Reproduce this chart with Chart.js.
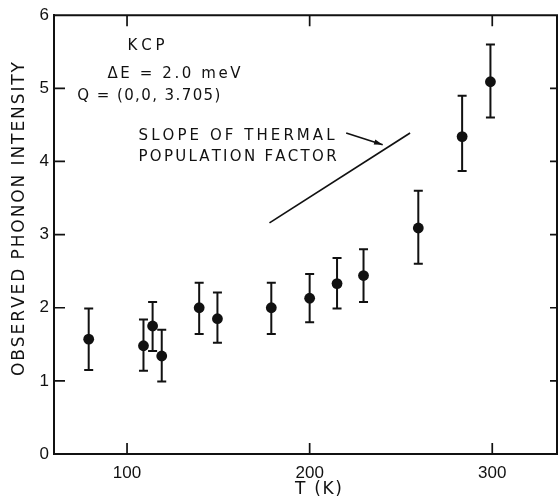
<!DOCTYPE html>
<html>
<head>
<meta charset="utf-8">
<script src="https://cdn.jsdelivr.net/npm/chart.js@4.4.1/dist/chart.umd.min.js"></script>
<style>
html,body{margin:0;padding:0;background:#fff;overflow:hidden;}
#wrap{width:558px;height:501px;position:relative;}
</style>
</head>
<body>
<div id="wrap"><canvas id="c" width="558" height="501"></canvas></div>
<script>
// ---- data ----
const temperatures = [79, 109, 114, 119, 139.5, 149.5, 179, 200, 215, 229.5, 259.5, 283.5, 299];
const intensity    = [1.57, 1.48, 1.75, 1.34, 2.00, 1.85, 2.00, 2.13, 2.33, 2.44, 3.09, 4.34, 5.09];
const errHigh      = [1.99, 1.84, 2.08, 1.70, 2.34, 2.21, 2.34, 2.46, 2.68, 2.80, 3.60, 4.90, 5.60];
const errLow       = [1.15, 1.14, 1.41, 0.99, 1.64, 1.52, 1.64, 1.80, 1.99, 2.08, 2.60, 3.87, 4.60];
const slopeT = [178, 255];
const slopeI = [3.16, 4.39];
const arrowT = [220, 240];
const arrowI = [4.39, 4.23];
const xTicks = [100, 200, 300];
const yTicks = [0, 1, 2, 3, 4, 5, 6];
const xTitle = "T (K)";
const yTitle = "OBSERVED PHONON INTENSITY";
const notes = [
  {text: "KCP", t: 100.3, i: 5.58, w: 37},
  {text: "\u0394E = 2.0 meV", t: 89.3, i: 5.19, w: 133},
  {text: "Q = (0,0, 3.705)", t: 72.8, i: 4.90, w: 143},
  {text: "SLOPE OF THERMAL", t: 106.3, i: 4.34, w: 196},
  {text: "POPULATION FACTOR", t: 106.3, i: 4.06, w: 198}
];

const FONT = '"DejaVu Sans", "Liberation Sans", sans-serif';
const TICKFONT = '"Liberation Sans", Arial, sans-serif';

function drawSpaced(ctx, text, x, y, target) {
  const chars = Array.from(text);
  let total = 0;
  const ws = chars.map(c => { const w = ctx.measureText(c).width; total += w; return w; });
  const sp = chars.length > 1 ? (target - total) / (chars.length - 1) : 0;
  let cx = x;
  chars.forEach((c, k) => { ctx.fillText(c, cx, y); cx += ws[k] + sp; });
}

const extras = {
  id: 'extras',
  beforeDatasetsDraw(chart) {
    const {ctx, scales: {x, y}} = chart;
    ctx.save();
    ctx.strokeStyle = '#111';
    ctx.lineWidth = 2;
    for (let k = 0; k < temperatures.length; k++) {
      const px = x.getPixelForValue(temperatures[k]);
      const pt = y.getPixelForValue(errHigh[k]);
      const pb = y.getPixelForValue(errLow[k]);
      ctx.beginPath();
      ctx.moveTo(px, pt); ctx.lineTo(px, pb);
      ctx.moveTo(px - 4.5, pt); ctx.lineTo(px + 4.5, pt);
      ctx.moveTo(px - 4.5, pb); ctx.lineTo(px + 4.5, pb);
      ctx.stroke();
    }
    ctx.restore();
  },
  afterDatasetsDraw(chart) {
    const {ctx, chartArea: a, scales: {x, y}} = chart;
    ctx.save();
    ctx.strokeStyle = '#111';
    ctx.lineWidth = 2;
    // frame top and right
    ctx.beginPath();
    ctx.moveTo(a.left, a.top); ctx.lineTo(a.right, a.top);
    ctx.moveTo(a.right - 1, a.top); ctx.lineTo(a.right - 1, a.bottom);
    ctx.stroke();
    // inward ticks
    ctx.lineWidth = 1.7;
    ctx.beginPath();
    xTicks.forEach(v => {
      const px = x.getPixelForValue(v);
      ctx.moveTo(px, a.bottom); ctx.lineTo(px, a.bottom - 11);
      ctx.moveTo(px, a.top); ctx.lineTo(px, a.top + 11);
    });
    yTicks.forEach(v => {
      if (v === 0 || v === 6) return;
      const py = y.getPixelForValue(v);
      ctx.moveTo(a.left, py); ctx.lineTo(a.left + 11, py);
      ctx.moveTo(a.right, py); ctx.lineTo(a.right - 8, py);
    });
    ctx.stroke();
    // arrow
    const ax0 = x.getPixelForValue(arrowT[0]), ay0 = y.getPixelForValue(arrowI[0]);
    const ax1 = x.getPixelForValue(arrowT[1]), ay1 = y.getPixelForValue(arrowI[1]);
    ctx.lineWidth = 1.6;
    ctx.beginPath(); ctx.moveTo(ax0, ay0); ctx.lineTo(ax1, ay1); ctx.stroke();
    const ang = Math.atan2(ay1 - ay0, ax1 - ax0);
    ctx.fillStyle = '#111';
    ctx.beginPath();
    ctx.moveTo(ax1, ay1);
    ctx.lineTo(ax1 - 9 * Math.cos(ang - 0.3), ay1 - 9 * Math.sin(ang - 0.3));
    ctx.lineTo(ax1 - 9 * Math.cos(ang + 0.3), ay1 - 9 * Math.sin(ang + 0.3));
    ctx.closePath(); ctx.fill();
    // annotations
    ctx.fillStyle = '#111';
    ctx.font = '15px ' + FONT;
    ctx.textBaseline = 'middle';
    ctx.textAlign = 'left';
    notes.forEach(n => {
      drawSpaced(ctx, n.text, x.getPixelForValue(n.t), y.getPixelForValue(n.i), n.w);
    });
    // axis titles
    ctx.font = '17px ' + FONT;
    drawSpaced(ctx, xTitle, 295, 490, 47);
    ctx.translate(20, 219);
    ctx.rotate(-Math.PI / 2);
    ctx.font = '17px ' + FONT;
    ctx.textAlign = 'left';
    ctx.textBaseline = 'middle';
    drawSpaced(ctx, yTitle, -157, 0, 314);
    ctx.restore();
  }
};

new Chart(document.getElementById('c'), {
  type: 'scatter',
  data: {
    datasets: [
      {
        label: 'data',
        data: temperatures.map((t, k) => ({x: t, y: intensity[k]})),
        pointRadius: 5.4,
        pointHoverRadius: 5.4,
        pointBackgroundColor: '#111',
        pointBorderColor: '#111',
        pointBorderWidth: 0,
        showLine: false
      },
      {
        label: 'slope',
        type: 'line',
        data: slopeT.map((t, k) => ({x: t, y: slopeI[k]})),
        borderColor: '#111',
        borderWidth: 1.7,
        pointRadius: 0,
        fill: false
      }
    ]
  },
  options: {
    responsive: false,
    animation: false,
    events: [],
    layout: {padding: {top: 12, right: 0, left: 0, bottom: 0}, autoPadding: false},
    plugins: {legend: {display: false}, tooltip: {enabled: false}},
    scales: {
      x: {
        type: 'linear', min: 60, max: 336,
        afterBuildTicks: s => { s.ticks = xTicks.map(v => ({value: v})); },
        afterFit: s => { s.height = 47; },
        grid: {display: false, drawTicks: false},
        border: {display: true, color: '#111', width: 2},
        ticks: {color: '#111', font: {family: TICKFONT, size: 17}, padding: 9, maxRotation: 0}
      },
      y: {
        type: 'linear', min: 0, max: 6,
        afterBuildTicks: s => { s.ticks = yTicks.map(v => ({value: v})); },
        afterFit: s => { s.width = 54; },
        grid: {display: false, drawTicks: false},
        border: {display: true, color: '#111', width: 2},
        ticks: {color: '#111', font: {family: TICKFONT, size: 17}, padding: 5}
      }
    }
  },
  plugins: [extras]
});
</script>
</body>
</html>
